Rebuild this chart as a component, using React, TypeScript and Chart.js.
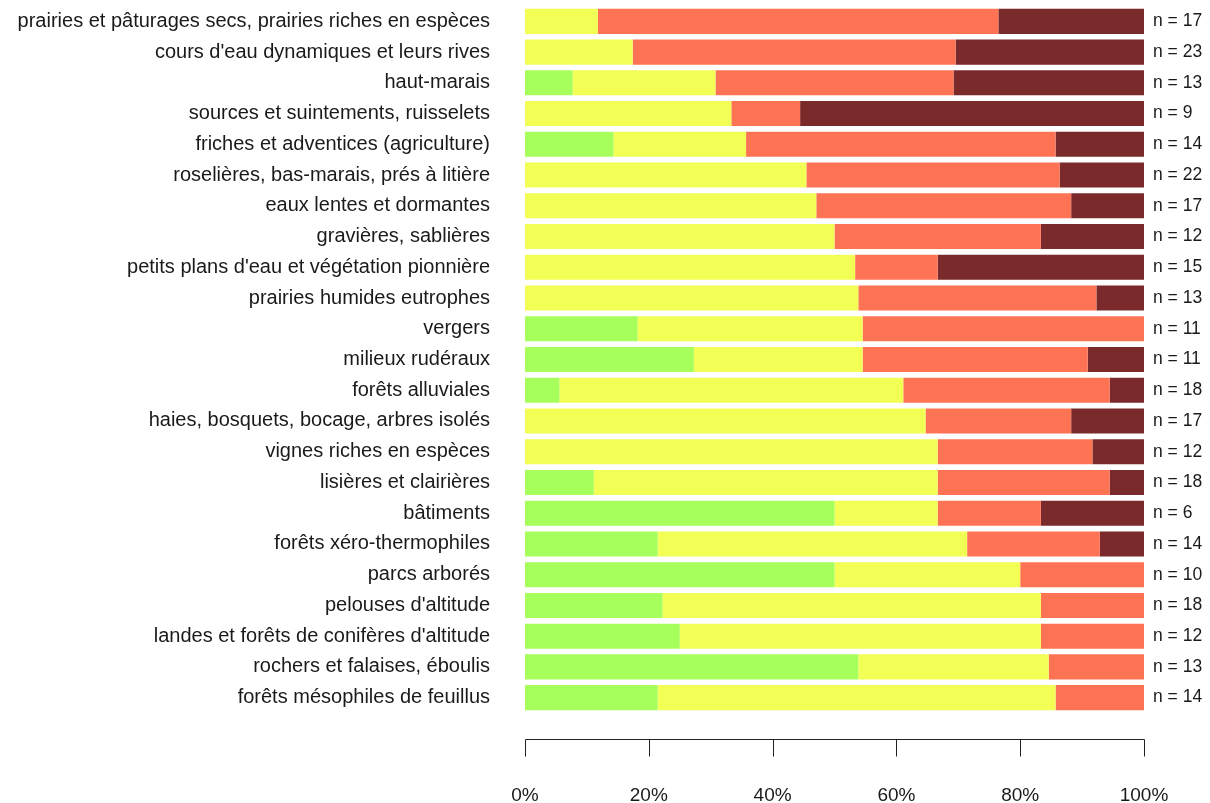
import React, { useEffect, useRef } from "react";
import { Chart, registerables } from "chart.js";

Chart.register(...registerables);

const categories = [
  "prairies et pâturages secs, prairies riches en espèces",
  "cours d'eau dynamiques et leurs rives",
  "haut-marais",
  "sources et suintements, ruisselets",
  "friches et adventices (agriculture)",
  "roselières, bas-marais, prés à litière",
  "eaux lentes et dormantes",
  "gravières, sablières",
  "petits plans d'eau et végétation pionnière",
  "prairies humides eutrophes",
  "vergers",
  "milieux rudéraux",
  "forêts alluviales",
  "haies, bosquets, bocage, arbres isolés",
  "vignes riches en espèces",
  "lisières et clairières",
  "bâtiments",
  "forêts xéro-thermophiles",
  "parcs arborés",
  "pelouses d'altitude",
  "landes et forêts de conifères d'altitude",
  "rochers et falaises, éboulis",
  "forêts mésophiles de feuillus",
];

const nCounts = [17, 23, 13, 9, 14, 22, 17, 12, 15, 13, 11, 11, 18, 17, 12, 18, 6, 14, 10, 18, 12, 13, 14];
const greenCounts = [0, 0, 1, 0, 2, 0, 0, 0, 0, 0, 2, 3, 1, 0, 0, 2, 3, 3, 5, 4, 3, 7, 3];
const yellowCounts = [2, 4, 3, 3, 3, 10, 8, 6, 8, 7, 4, 3, 10, 11, 8, 10, 1, 7, 3, 11, 7, 4, 9];
const salmonCounts = [11, 12, 5, 1, 7, 9, 7, 4, 2, 5, 5, 4, 6, 4, 3, 5, 1, 3, 2, 3, 2, 2, 2];
const darkCounts = [4, 7, 4, 5, 2, 3, 2, 2, 5, 1, 0, 1, 1, 2, 1, 1, 1, 1, 0, 0, 0, 0, 0];

const xTicks = [0, 20, 40, 60, 80, 100];
const nLabels = nCounts.map((n) => `n = ${n}`);

const FONT = "'Liberation Sans', Arial, sans-serif";
const TEXT = "#1a1a1a";

const share = (arr: number[]) => arr.map((v, i) => (v / nCounts[i]) * 100);

const noPad = (s: any) => {
  s.paddingTop = 0;
  s.paddingBottom = 0;
  s.paddingLeft = 0;
  s.paddingRight = 0;
};

const axisPlugin = {
  id: "rAxis",
  afterDraw(chart: any) {
    const ctx = chart.ctx;
    const xs = chart.scales.x;
    const y0 = 739.5;
    ctx.save();
    ctx.strokeStyle = "#222";
    ctx.lineWidth = 1;
    ctx.beginPath();
    ctx.moveTo(Math.round(xs.getPixelForValue(0)) + 0.5, y0);
    ctx.lineTo(Math.round(xs.getPixelForValue(100)) + 0.5, y0);
    xTicks.forEach((t) => {
      const px = Math.round(xs.getPixelForValue(t)) + 0.5;
      ctx.moveTo(px, y0);
      ctx.lineTo(px, y0 + 17);
    });
    ctx.stroke();
    ctx.restore();
  },
};

export default function App() {
  const ref = useRef<HTMLCanvasElement>(null);
  useEffect(() => {
    if (!ref.current) return;
    const ds = (label: string, data: number[], color: string) => ({
      label,
      data,
      backgroundColor: color,
      borderWidth: 0,
      barPercentage: 0.815,
      categoryPercentage: 1,
      yAxisID: "y",
    });
    const chart = new Chart(ref.current, {
      type: "bar",
      data: {
        labels: categories,
        datasets: [
          ds("green", share(greenCounts), "#a6ff5a"),
          ds("yellow", share(yellowCounts), "#f2ff55"),
          ds("salmon", share(salmonCounts), "#ff7355"),
          ds("dark", share(darkCounts), "#7a2a2a"),
        ],
      },
      options: {
        indexAxis: "y",
        animation: false,
        responsive: false,
        events: [],
        layout: { padding: { top: 6, left: 0, right: 0, bottom: 0 } },
        plugins: { legend: { display: false }, tooltip: { enabled: false } },
        scales: {
          x: {
            stacked: true,
            min: 0,
            max: 100,
            afterBuildTicks: (s: any) => {
              s.ticks = xTicks.map((v) => ({ value: v }));
            },
            ticks: {
              callback: (v: any) => `${v}%`,
              font: { family: FONT, size: 19 },
              color: TEXT,
              padding: 71,
              maxRotation: 0,
            },
            grid: { display: false, drawTicks: false },
            border: { display: false },
            afterFit: (s: any) => {
              s.height = 90;
              noPad(s);
            },
          },
          y: {
            stacked: true,
            position: "left",
            ticks: {
              font: { family: FONT, size: 20 },
              color: TEXT,
              padding: 35,
              autoSkip: false,
            },
            grid: { display: false, drawTicks: false },
            border: { display: false },
            afterFit: (s: any) => {
              s.width = 525;
              noPad(s);
            },
          },
          y2: {
            type: "category",
            position: "right",
            labels: nLabels,
            offset: true,
            ticks: {
              font: { family: FONT, size: 17.5 },
              color: TEXT,
              padding: 9,
              autoSkip: false,
            },
            grid: { display: false, drawTicks: false },
            border: { display: false },
            afterFit: (s: any) => {
              s.width = 66;
              noPad(s);
            },
          },
        },
      },
      plugins: [axisPlugin],
    } as any);
    return () => chart.destroy();
  }, []);
  return (
    <div style={{ position: "absolute", left: 0, top: 0, width: 1210, height: 803, background: "#fff" }}>
      <canvas ref={ref} width={1210} height={803} style={{ display: "block" }} />
    </div>
  );
}
